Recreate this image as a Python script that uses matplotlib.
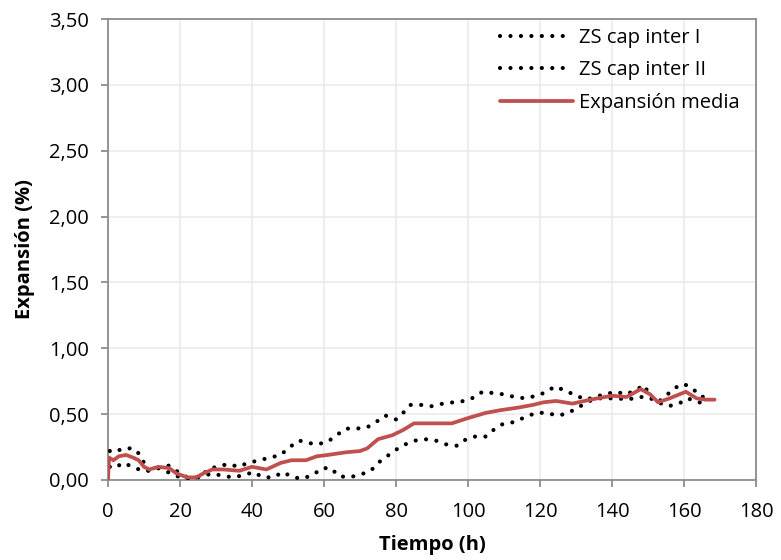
import numpy as np
import matplotlib
matplotlib.use('Agg')
import matplotlib.pyplot as plt

plt.rcParams['font.family'] = ['Open Sans', 'DejaVu Sans']

# Serie ZS cap inter I
t_i = [0.5, 2, 4, 7, 9, 11, 14, 17, 20, 22, 25, 28, 31, 34, 36, 39, 42, 45, 48, 50,
       53, 56, 58, 61, 64, 66, 69, 72, 75, 77, 80, 82, 84, 87, 90, 93, 96, 99, 102, 104,
       107, 110, 113, 116, 119, 122, 124, 127, 130, 133, 135, 138, 141, 144, 147, 149,
       150.6, 152.8, 155, 157.5, 160, 162.5, 165, 167.5]
exp_i = [0.22, 0.21, 0.24, 0.24, 0.19, 0.07, 0.09, 0.11, 0.05, 0.02, 0.02, 0.08, 0.11, 0.12, 0.10, 0.13, 0.15, 0.17, 0.19, 0.24,
         0.30, 0.28, 0.27, 0.29, 0.35, 0.39, 0.39, 0.40, 0.45, 0.49, 0.46, 0.51, 0.57, 0.57, 0.56, 0.58, 0.59, 0.60, 0.63, 0.67,
         0.66, 0.65, 0.63, 0.62, 0.64, 0.67, 0.71, 0.68, 0.64, 0.61, 0.63, 0.65, 0.67, 0.65, 0.69, 0.72,
         0.63, 0.59, 0.64, 0.70, 0.73, 0.69, 0.63, 0.65]

# Serie ZS cap inter II
t_ii = [0.5, 2, 4, 6, 8.6, 11, 14, 17.5, 20, 22.5, 25, 29, 32, 35, 38, 40.5, 43, 46, 48.5, 51.5,
        54, 57, 59.5, 62, 64, 67, 70, 73, 75, 77.5, 80, 82.5, 85.5, 88, 91, 94, 97, 99.5, 102, 105,
        107.5, 110, 113, 116, 119, 122, 124.5, 127, 130, 133, 135.5, 138.5, 141.5, 144.5, 147, 150,
        152.8, 155.6, 158.6, 161, 164, 167]
exp_ii = [0.10, 0.09, 0.13, 0.11, 0.08, 0.07, 0.09, 0.05, 0.02, 0.01, 0.02, 0.05, 0.03, 0.02, 0.04, 0.06, 0.02, 0.02, 0.06, 0.02,
          0.01, 0.04, 0.09, 0.09, 0.03, 0.02, 0.04, 0.07, 0.13, 0.18, 0.23, 0.27, 0.30, 0.31, 0.30, 0.27, 0.26, 0.31, 0.33, 0.33,
          0.39, 0.43, 0.44, 0.48, 0.51, 0.51, 0.49, 0.50, 0.54, 0.59, 0.62, 0.62, 0.62, 0.61, 0.63, 0.63,
          0.59, 0.56, 0.58, 0.62, 0.59, 0.58]

# Expansión media
t_m = [0, 0.3, 1.5, 3, 5, 7, 8.5, 10, 11.5, 14, 17, 19, 22, 24.5, 26.5, 29, 32, 36.5, 40, 44,
       48, 51, 55, 58, 61, 66, 70, 72, 75, 79, 82, 85, 90, 95.5, 100, 105, 109, 114, 118, 121,
       124.5, 129, 134, 140, 144, 148, 150.6, 152.8, 156, 160.5, 163.5, 166, 168.5]
exp_m = [0.0, 0.17, 0.15, 0.18, 0.19, 0.17, 0.15, 0.10, 0.08, 0.10, 0.09, 0.05, 0.02, 0.02, 0.05, 0.08, 0.08, 0.07, 0.10, 0.08,
         0.13, 0.15, 0.15, 0.18, 0.19, 0.21, 0.22, 0.24, 0.31, 0.34, 0.38, 0.43, 0.43, 0.43, 0.47, 0.51, 0.53, 0.55, 0.57, 0.59,
         0.60, 0.58, 0.61, 0.64, 0.63, 0.69, 0.65, 0.59, 0.62, 0.67, 0.62, 0.61, 0.61]

x_ticks = np.arange(0, 181, 20)
y_ticks = np.arange(0, 3.51, 0.5)

fs = 14.5

fig = plt.figure(figsize=(7.81, 5.6), dpi=100)
ax = fig.add_axes([108 / 781, 80 / 560, 648 / 781, 461 / 560])

dots = (0, (0.01, 2.5))
ax.plot(t_i, exp_i, color='black', lw=3.0, linestyle=dots, dash_capstyle='round',
        label='ZS cap inter I', zorder=3)
ax.plot(t_ii, exp_ii, color='black', lw=3.0, linestyle=dots, dash_capstyle='round',
        label='ZS cap inter II', zorder=3)
ax.plot(t_m, exp_m, color='#C0504D', lw=2.7, solid_capstyle='round',
        label='Expansión media', zorder=4)

ax.set_xlim(0, 180)
ax.set_ylim(0, 3.5)
ax.set_xticks(x_ticks)
ax.set_yticks(y_ticks)
ax.set_yticklabels([f'{v:.2f}'.replace('.', ',') for v in y_ticks])
ax.grid(True, color='#ebebeb', lw=1.2)
ax.set_axisbelow(True)

for s in ax.spines.values():
    s.set_color('#8c8c8c')
    s.set_linewidth(1.3)
ax.tick_params(direction='out', length=5, width=1.3, color='#8c8c8c',
               labelsize=fs, labelcolor='black')
ax.tick_params(axis='y', pad=9)
ax.tick_params(axis='x', pad=11)

ax.set_xlabel('Tiempo (h)', fontsize=fs, fontweight='bold', labelpad=9)
ax.set_ylabel('Expansión (%)', fontsize=fs, fontweight='bold', labelpad=10)

ax.legend(loc='upper left', bbox_to_anchor=(500 / 781, 1 - 28 / 560),
          bbox_transform=fig.transFigure, frameon=False, fontsize=fs,
          handlelength=3.6, handletextpad=0.3, labelspacing=0.62,
          borderpad=0, borderaxespad=0)

fig.savefig('out.png', dpi=100)
